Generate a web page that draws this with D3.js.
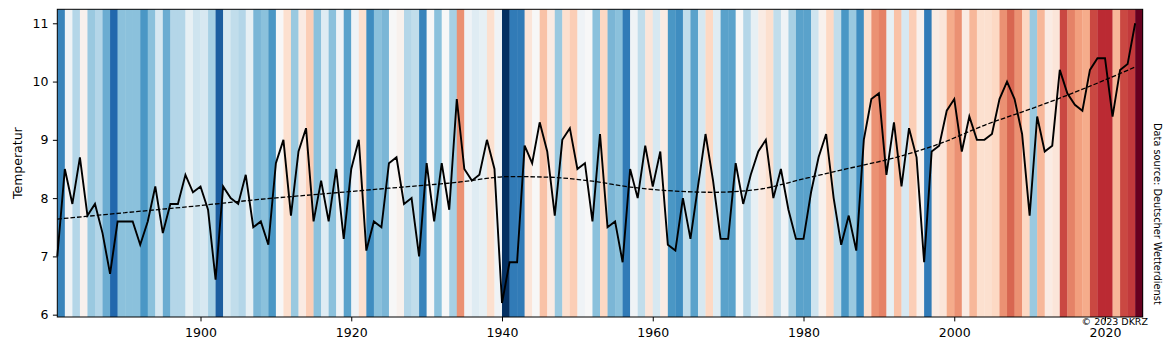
<!DOCTYPE html>
<html>
<head>
<meta charset="utf-8">
<script src="https://cdn.jsdelivr.net/npm/d3@7"></script>
<style>
  body { margin: 0; background: #fff; }
  svg text { font-family: "DejaVu Sans", sans-serif; fill: #000; }
</style>
</head>
<body>
<div id="chart"></div>
<script>
// annual mean temperature, Germany, one value per year from 1881
var firstYear = 1881;
var temps = [
  7.0, 8.5, 7.9, 8.7, 7.7, 7.9, 7.4, 6.7, 7.6, 7.6,
  7.6, 7.2, 7.6, 8.2, 7.4, 7.9, 7.9, 8.4, 8.1, 8.2,
  7.8, 6.6, 8.2, 8.0, 7.9, 8.4, 7.5, 7.6, 7.2, 8.6,
  9.0, 7.7, 8.8, 9.2, 7.6, 8.3, 7.6, 8.5, 7.3, 8.5,
  9.0, 7.1, 7.6, 7.5, 8.6, 8.7, 7.9, 8.0, 7.0, 8.6,
  7.6, 8.6, 7.8, 9.7, 8.5, 8.3, 8.4, 9.0, 8.5, 6.2,
  6.9, 6.9, 8.9, 8.6, 9.3, 8.8, 7.7, 9.0, 9.2, 8.5,
  8.6, 7.6, 9.1, 7.5, 7.6, 6.9, 8.5, 8.0, 8.9, 8.2,
  8.8, 7.2, 7.1, 8.0, 7.3, 8.2, 9.1, 8.3, 7.3, 7.3,
  8.6, 7.9, 8.4, 8.8, 9.0, 8.0, 8.5, 7.8, 7.3, 7.3,
  8.1, 8.7, 9.1, 8.0, 7.2, 7.7, 7.1, 9.0, 9.7, 9.8,
  8.4, 9.3, 8.2, 9.2, 8.7, 6.9, 8.8, 8.9, 9.5, 9.7,
  8.8, 9.4, 9.0, 9.0, 9.1, 9.7, 10.0, 9.7, 9.1, 7.7,
  9.4, 8.8, 8.9, 10.2, 9.8, 9.6, 9.5, 10.2, 10.4, 10.4,
  9.4, 10.2, 10.3, 11.0
];
var years = temps.map(function(d, i) { return firstYear + i; });

var trendYears  = [1881, 1890, 1899, 1908, 1916, 1925, 1934, 1941, 1946, 1952, 1957, 1963, 1968, 1974, 1980, 1986, 1992, 1998, 2004, 2011, 2018, 2024];
var trendValues = [7.64, 7.75, 7.86, 7.98, 8.07, 8.17, 8.27, 8.37, 8.36, 8.29, 8.19, 8.12, 8.10, 8.15, 8.33, 8.51, 8.69, 8.93, 9.25, 9.57, 9.92, 10.25];

var xTicks = [1900, 1920, 1940, 1960, 1980, 2000, 2020];
var yTicks = [6, 7, 8, 9, 10, 11];

// RdBu reversed (blue = cold, red = warm)
var palette = ["#053061","#2166ac","#4393c3","#92c5de","#d1e5f0","#f7f7f7","#fddbc7","#f4a582","#d6604d","#b2182b","#67001f"];

var margin = {top: 9.3, left: 57.3},
    width = 1142.7 - margin.left,
    height = 317 - margin.top;

var svg = d3.select("#chart")
  .append("svg")
  .attr("width", 1171)
  .attr("height", 351)
  .append("g")
  .attr("transform", "translate(" + margin.left + "," + margin.top + ")");

var vmin = d3.min(temps), vmax = d3.max(temps);
var pad = (vmax - vmin) * 0.05;

var x = d3.scaleLinear()
  .domain([firstYear, years[years.length - 1] + 1])
  .range([0, width]);

var y = d3.scaleLinear()
  .domain([vmin - pad, vmax + pad])
  .range([height, 0]);

var color = d3.scaleLinear()
  .domain(palette.map(function(c, i) { return vmin + i * (vmax - vmin) / (palette.length - 1); }))
  .range(palette)
  .interpolate(d3.interpolateRgb);

// stripes
svg.selectAll("rect.stripe")
  .data(temps)
  .enter()
  .append("rect")
  .attr("class", "stripe")
  .attr("x", function(d, i) { return x(years[i]); })
  .attr("y", 0)
  .attr("width", function(d, i) { return x(years[i] + 1) - x(years[i]) + 0.3; })
  .attr("height", height)
  .attr("fill", function(d) { return color(d); });

// trend
svg.append("path")
  .datum(trendYears.map(function(d, i) { return [d, trendValues[i]]; }))
  .attr("fill", "none")
  .attr("stroke", "#000")
  .attr("stroke-width", 1.3)
  .attr("stroke-dasharray", "4.6,2")
  .attr("d", d3.line()
    .curve(d3.curveMonotoneX)
    .x(function(d) { return x(d[0]); })
    .y(function(d) { return y(d[1]); }));

// annual values
svg.append("path")
  .datum(temps)
  .attr("fill", "none")
  .attr("stroke", "#000")
  .attr("stroke-width", 1.9)
  .attr("d", d3.line()
    .x(function(d, i) { return x(years[i]); })
    .y(function(d) { return y(d); }));

// axes
var xAxis = svg.append("g")
  .attr("transform", "translate(0," + height + ")")
  .call(d3.axisBottom(x).tickValues(xTicks).tickFormat(d3.format("d")).tickSize(4.4).tickPadding(6.5));

var yAxis = svg.append("g")
  .call(d3.axisLeft(y).tickValues(yTicks).tickFormat(d3.format("d")).tickSize(4.4).tickPadding(4.4));

[xAxis, yAxis].forEach(function(g) {
  g.select(".domain").remove();
  g.selectAll("line").attr("stroke", "#000").attr("stroke-width", 1);
  g.selectAll("text").style("font-size", "12.5px").attr("fill", "#000");
});

// frame
svg.append("rect")
  .attr("x", 0)
  .attr("y", 0)
  .attr("width", width)
  .attr("height", height)
  .attr("fill", "none")
  .attr("stroke", "#000")
  .attr("stroke-width", 1);

svg.append("text")
  .attr("transform", "translate(" + (-35) + "," + (height / 2) + ")rotate(-90)")
  .attr("text-anchor", "middle")
  .style("font-size", "12.5px")
  .text("Temperatur");

svg.append("text")
  .attr("transform", "translate(" + (1154 - margin.left) + "," + (123 - margin.top) + ")rotate(90)")
  .attr("text-anchor", "start")
  .style("font-size", "9.8px")
  .text("Data source: Deutscher Wetterdienst");

svg.append("text")
  .attr("x", 1148 - margin.left)
  .attr("y", 325.5 - margin.top)
  .attr("text-anchor", "end")
  .style("font-size", "9.5px")
  .text("© 2023 DKRZ");
</script>
</body>
</html>
